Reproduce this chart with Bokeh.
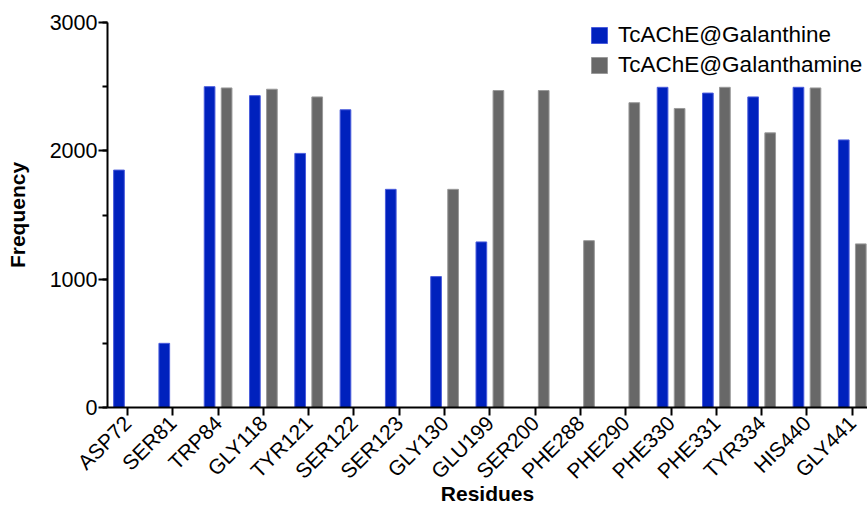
import numpy as np
from bokeh.plotting import figure
from bokeh.models import (Range1d, FixedTicker, SingleIntervalTicker, Legend, LegendItem,
                          ColumnDataSource)
from bokeh.transform import dodge
from bokeh.embed import file_html
from bokeh.resources import INLINE

residues = ["ASP72", "SER81", "TRP84", "GLY118", "TYR121", "SER122", "SER123", "GLY130",
            "GLU199", "SER200", "PHE288", "PHE290", "PHE330", "PHE331", "TYR334", "HIS440", "GLY441"]
galanthine = [1850, 500, 2500, 2430, 1980, 2320, 1700, 1020, 1290, 0, 0, 0, 2495, 2450, 2420, 2495, 2085]
galanthamine = [0, 0, 2490, 2480, 2420, 0, 0, 1700, 2470, 2470, 1300, 2375, 2330, 2495, 2140, 2490, 1275]
series_names = ["TcAChE@Galanthine", "TcAChE@Galanthamine"]
x_title = "Residues"
y_title = "Frequency"

FONT = "Liberation Sans"
BLUE_FILL, BLUE_LINE = "#0021BD", "#4A5CDC"
GRAY_FILL, GRAY_LINE = "#686868", "#9A9A9A"

idx = np.arange(len(residues))


def make_source(vals):
    keep = [i for i, v in enumerate(vals) if v > 0]
    return ColumnDataSource(dict(x=[float(idx[i]) for i in keep], top=[vals[i] for i in keep]))


src_a = make_source(galanthine)
src_b = make_source(galanthamine)

p = figure(width=867, height=508, output_backend="svg", toolbar_location=None,
           x_range=Range1d(-0.4415, 16.336), y_range=Range1d(0, 3000),
           min_border_left=107, min_border_right=0, min_border_top=22, min_border_bottom=101)

r1 = p.vbar(x=dodge("x", -0.188, range=p.x_range), top="top", bottom=0, width=0.236, source=src_a,
            fill_color=BLUE_FILL, line_color=BLUE_LINE, line_width=1)
r2 = p.vbar(x=dodge("x", 0.188, range=p.x_range), top="top", bottom=0, width=0.236, source=src_b,
            fill_color=GRAY_FILL, line_color=GRAY_LINE, line_width=1)

p.outline_line_color = None
p.xgrid.visible = False
p.ygrid.visible = False
p.background_fill_color = "white"
p.border_fill_color = "white"

xa = p.xaxis[0]
xa.ticker = FixedTicker(ticks=list(range(len(residues))))
xa.major_label_overrides = {i: name for i, name in enumerate(residues)}
xa.major_label_orientation = np.pi / 4
xa.major_label_text_font = FONT
xa.major_label_text_font_size = "21px"
xa.major_label_text_color = "black"
xa.major_label_standoff = 4
xa.major_tick_out = 8
xa.major_tick_in = 0
xa.minor_tick_out = 0
xa.minor_tick_in = 0
xa.axis_line_width = 2
xa.major_tick_line_width = 2
xa.axis_label = x_title
xa.axis_label_text_font = FONT
xa.axis_label_text_font_style = "bold"
xa.axis_label_text_font_size = "21px"
xa.axis_label_text_color = "black"
xa.axis_label_standoff = -12

ya = p.yaxis[0]
ya.ticker = SingleIntervalTicker(interval=1000, num_minor_ticks=2)
ya.major_label_text_font = FONT
ya.major_label_text_font_size = "21.5px"
ya.major_label_text_color = "black"
ya.major_label_standoff = 1
ya.major_tick_out = 9
ya.major_tick_in = 0
ya.minor_tick_out = 5
ya.minor_tick_in = 0
ya.axis_line_width = 2
ya.major_tick_line_width = 2
ya.minor_tick_line_width = 2
ya.axis_label = y_title
ya.axis_label_text_font = FONT
ya.axis_label_text_font_style = "bold"
ya.axis_label_text_font_size = "21px"
ya.axis_label_text_color = "black"
ya.axis_label_standoff = 18

legend = Legend(items=[LegendItem(label=series_names[0], renderers=[r1]),
                       LegendItem(label=series_names[1], renderers=[r2])],
                location=(482, 329), orientation="vertical",
                glyph_width=20, glyph_height=20, label_height=20, label_standoff=9,
                spacing=4, padding=0, margin=0, border_line_color=None,
                background_fill_alpha=0,
                label_text_font=FONT, label_text_font_size="22.5px", label_text_color="black")
p.add_layout(legend)

open("out.html", "w").write(file_html(p, INLINE))
